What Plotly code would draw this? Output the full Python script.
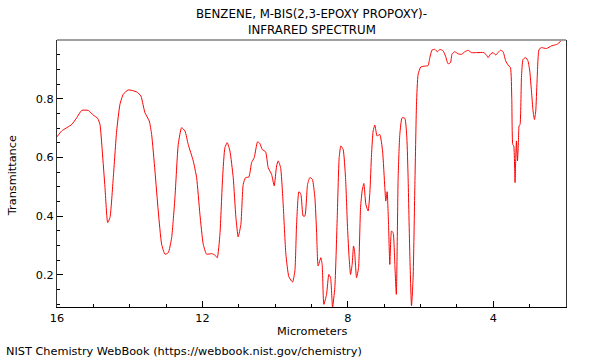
import plotly.graph_objects as go

# Wavelength (micrometers) and transmittance
wavelength_um = [
    16.0, 15.871, 15.596, 15.458, 15.321, 15.140, 15.002, 14.881, 14.818, 14.755,
    14.680, 14.606, 14.543, 14.452, 14.359, 14.268, 14.177, 14.040, 13.809, 13.691,
    13.636, 13.581, 13.463, 13.397, 13.306, 13.215, 13.122, 13.031, 12.940, 12.847,
    12.756, 12.665, 12.572, 12.481, 12.391, 12.253, 12.160, 12.069, 11.978, 11.885,
    11.747, 11.657, 11.593, 11.519, 11.445, 11.382, 11.318, 11.244, 11.153, 11.079,
    11.016, 10.942, 10.878, 10.812, 10.722, 10.648, 10.576, 10.483, 10.419, 10.356,
    10.263, 10.191, 10.098, 10.026, 9.960, 9.916, 9.850, 9.779, 9.705, 9.622,
    9.520, 9.457, 9.410, 9.347, 9.292, 9.229, 9.182, 9.108, 9.045, 8.976,
    8.907, 8.861, 8.817, 8.743, 8.707, 8.660, 8.586, 8.523, 8.476, 8.421,
    8.358, 8.295, 8.239, 8.193, 8.130, 8.064, 8.009, 7.965, 7.926, 7.882,
    7.844, 7.816, 7.761, 7.706, 7.651, 7.607, 7.560, 7.505, 7.442, 7.395,
    7.349, 7.305, 7.258, 7.195, 7.121, 7.046, 6.983, 6.956, 6.920, 6.881,
    6.846, 6.799, 6.755, 6.708, 6.667, 6.617, 6.571, 6.508, 6.433, 6.378,
    6.343, 6.296, 6.249, 6.205, 6.158, 6.112, 6.068, 5.994, 5.884, 5.793,
    5.746, 5.683, 5.609, 5.534, 5.471, 5.380, 5.314, 5.243, 5.177, 5.133,
    5.059, 4.968, 4.875, 4.784, 4.693, 4.600, 4.462, 4.262, 4.187, 4.143,
    4.069, 4.006, 3.932, 3.869, 3.803, 3.731, 3.657, 3.593, 3.528, 3.492,
    3.464, 3.437, 3.401, 3.382, 3.363, 3.335, 3.308, 3.291, 3.264, 3.225,
    3.181, 3.107, 3.044, 2.997, 2.950, 2.906, 2.868, 2.832, 2.796, 2.741,
    2.675, 2.538, 2.400, 2.310, 2.219, 2.126, 2.035,
]
transmittance = [
    0.670, 0.690, 0.712, 0.735, 0.760, 0.760, 0.744, 0.733, 0.712, 0.622,
    0.497, 0.378, 0.395, 0.531, 0.690, 0.781, 0.815, 0.830, 0.823, 0.809,
    0.781, 0.752, 0.724, 0.678, 0.554, 0.417, 0.304, 0.270, 0.275, 0.326,
    0.463, 0.644, 0.701, 0.690, 0.644, 0.588, 0.531, 0.406, 0.304, 0.270,
    0.272, 0.267, 0.258, 0.338, 0.531, 0.633, 0.650, 0.622, 0.531, 0.395,
    0.329, 0.372, 0.508, 0.531, 0.533, 0.582, 0.599, 0.653, 0.647, 0.627,
    0.619, 0.565, 0.542, 0.503, 0.571, 0.588, 0.565, 0.440, 0.270, 0.193,
    0.175, 0.213, 0.372, 0.483, 0.474, 0.400, 0.400, 0.508, 0.531, 0.525,
    0.463, 0.349, 0.230, 0.258, 0.235, 0.099, 0.133, 0.201, 0.190, 0.090,
    0.156, 0.383, 0.599, 0.639, 0.627, 0.531, 0.360, 0.258, 0.201, 0.235,
    0.298, 0.281, 0.190, 0.224, 0.429, 0.486, 0.511, 0.440, 0.417, 0.480,
    0.610, 0.690, 0.710, 0.673, 0.678, 0.622, 0.497, 0.451, 0.483, 0.372,
    0.235, 0.349, 0.343, 0.235, 0.133, 0.531, 0.678, 0.735, 0.733, 0.667,
    0.531, 0.270, 0.094, 0.190, 0.497, 0.781, 0.883, 0.908, 0.911, 0.913,
    0.940, 0.966, 0.968, 0.960, 0.968, 0.963, 0.945, 0.919, 0.923, 0.953,
    0.960, 0.953, 0.951, 0.960, 0.965, 0.957, 0.957, 0.957, 0.949, 0.940,
    0.953, 0.957, 0.949, 0.957, 0.965, 0.960, 0.928, 0.915, 0.906, 0.803,
    0.644, 0.639, 0.514, 0.599, 0.656, 0.588, 0.656, 0.707, 0.712, 0.872,
    0.934, 0.940, 0.928, 0.894, 0.826, 0.758, 0.729, 0.758, 0.860, 0.968,
    0.974, 0.971, 0.980, 0.983, 0.987, 0.999, 1.000,
]

x_tick_vals = [16, 12, 8, 4]
x_tick_text = ["16", "12", "8", "4"]
y_tick_vals = [0.2, 0.4, 0.6, 0.8]
y_tick_text = ["0.2", "0.4", "0.6", "0.8"]

title_line1 = "BENZENE, M-BIS(2,3-EPOXY PROPOXY)-"
title_line2 = "INFRARED SPECTRUM"
x_title = "Micrometers"
y_title = "Transmittance"
footer = "NIST Chemistry WebBook (https://webbook.nist.gov/chemistry)"

FONT = "DejaVu Sans"
TITLE_SIZE = 11.8
LABEL_SIZE = 11.3
TICK_SIZE = 11.3

fig = go.Figure()
fig.add_trace(go.Scatter(
    x=wavelength_um, y=transmittance, mode="lines",
    line=dict(color="#ff0000", width=1, shape="spline", smoothing=0.5),
    hoverinfo="x+y", showlegend=False,
))

fig.update_layout(
    width=600, height=360,
    margin=dict(l=57, r=34, t=40, b=53),
    paper_bgcolor="white", plot_bgcolor="white",
    font=dict(family=FONT, size=12, color="black"),
    showlegend=False,
    xaxis=dict(
        range=[16, 2.0], autorange=False,
        tickmode="array", tickvals=x_tick_vals, ticktext=x_tick_text,
        ticks="inside", ticklen=6, tickwidth=1, tickcolor="black",
        minor=dict(tickmode="linear", tick0=0, dtick=1, ticks="inside",
                   ticklen=3, tickcolor="black", showgrid=False),
        showline=True, linecolor="black", linewidth=1, mirror=False,
        showgrid=False, zeroline=False,
        tickfont=dict(family=FONT, size=TICK_SIZE, color="black"),
    ),
    yaxis=dict(
        range=[0.09, 1.0], autorange=False,
        tickmode="array", tickvals=y_tick_vals, ticktext=y_tick_text,
        ticks="inside", ticklen=6, tickwidth=1, tickcolor="black",
        minor=dict(tickmode="linear", tick0=0, dtick=0.05, ticks="inside",
                   ticklen=3, tickcolor="black", showgrid=False),
        showline=True, linecolor="#333333", linewidth=1, mirror=True,
        showgrid=False, zeroline=False,
        tickfont=dict(family=FONT, size=TICK_SIZE, color="black"),
    ),
    shapes=[dict(type="line", xref="paper", yref="paper", x0=0, x1=1, y0=1, y1=1,
                 line=dict(color="#a0a0a0", width=2))],
    annotations=[
        dict(text=title_line1, xref="paper", yref="paper", x=0.5, y=1.0974,
             xanchor="center", yanchor="middle", showarrow=False,
             font=dict(family=FONT, size=TITLE_SIZE, color="black")),
        dict(text=title_line2, xref="paper", yref="paper", x=0.5, y=1.0375,
             xanchor="center", yanchor="middle", showarrow=False,
             font=dict(family=FONT, size=TITLE_SIZE, color="black")),
        dict(text=x_title, xref="paper", yref="paper", x=0.5, y=-0.09,
             xanchor="center", yanchor="middle", showarrow=False,
             font=dict(family=FONT, size=LABEL_SIZE, color="black")),
        dict(text=y_title, xref="paper", yref="paper", x=-0.0884, y=0.49,
             xanchor="center", yanchor="middle", showarrow=False, textangle=-90,
             font=dict(family=FONT, size=LABEL_SIZE, color="black")),
        dict(text=footer, xref="paper", yref="paper", x=-0.104, y=-0.1685,
             xanchor="left", yanchor="middle", showarrow=False,
             font=dict(family=FONT, size=LABEL_SIZE, color="black")),
    ],
)

fig.write_html(
    "out.html",
    config={"displayModeBar": False},
    post_script="document.body.style.margin='0';document.body.style.padding='0';",
)
